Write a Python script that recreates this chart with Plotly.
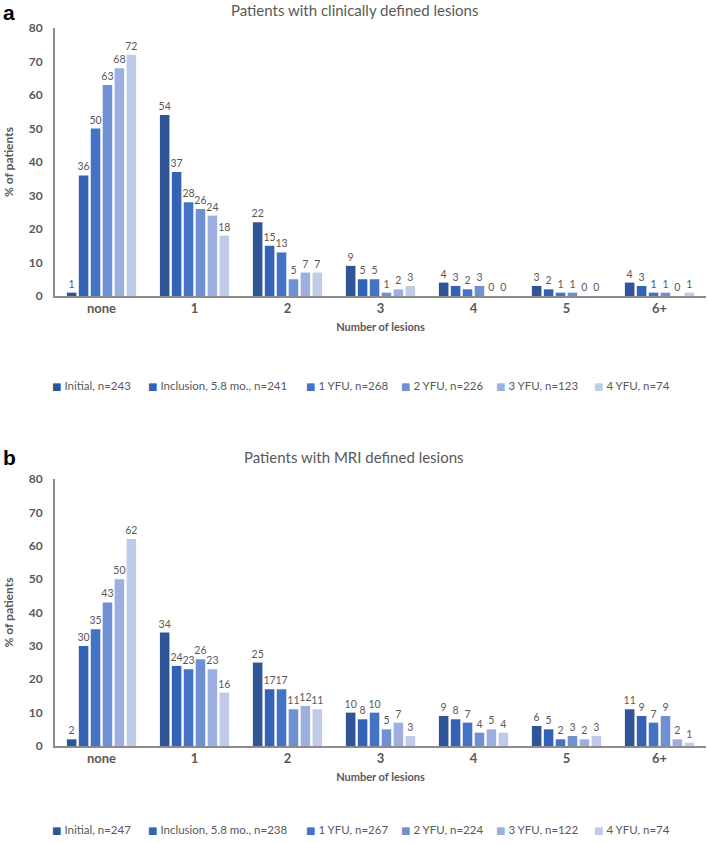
import plotly.graph_objects as go

categories = ["none", "1", "2", "3", "4", "5", "6+"]

series_names_a = ["Initial, n=243", "Inclusion, 5.8 mo., n=241", "1 YFU, n=268",
                  "2 YFU, n=226", "3 YFU, n=123", "4 YFU, n=74"]
series_names_b = ["Initial, n=247", "Inclusion, 5.8 mo., n=238", "1 YFU, n=267",
                  "2 YFU, n=224", "3 YFU, n=122", "4 YFU, n=74"]

values_a = [
    [1, 54, 22, 9, 4, 3, 4],
    [36, 37, 15, 5, 3, 2, 3],
    [50, 28, 13, 5, 2, 1, 1],
    [63, 26, 5, 1, 3, 1, 1],
    [68, 24, 7, 2, 0, 0, 0],
    [72, 18, 7, 3, 0, 0, 1],
]
values_b = [
    [2, 34, 25, 10, 9, 6, 11],
    [30, 24, 17, 8, 8, 5, 9],
    [35, 23, 17, 10, 7, 2, 7],
    [43, 26, 11, 5, 4, 3, 9],
    [50, 23, 12, 7, 5, 2, 2],
    [62, 16, 11, 3, 4, 3, 1],
]

colors = ["#2F5597", "#3462B4", "#4472C4", "#7090D4", "#9DAFDE", "#BFCBE8"]

W, H = 708, 843
FONT = "Lato"
GREY = "#595959"

def py(px):
    return 1 - px / H

def pxx(px):
    return px / W

fig = go.Figure()

for i in range(6):
    fig.add_trace(go.Bar(
        x=categories, y=values_a[i], name=series_names_a[i],
        marker=dict(color=colors[i], line=dict(width=0)),
        text=[str(v) for v in values_a[i]], textposition="outside", constraintext="none",
        textfont=dict(size=10.5, color=GREY, family=FONT),
        cliponaxis=False, xaxis="x", yaxis="y", showlegend=False, hoverinfo="skip",
    ))
for i in range(6):
    fig.add_trace(go.Bar(
        x=categories, y=values_b[i], name=series_names_b[i],
        marker=dict(color=colors[i], line=dict(width=0)),
        text=[str(v) for v in values_b[i]], textposition="outside", constraintext="none",
        textfont=dict(size=10.5, color=GREY, family=FONT),
        cliponaxis=False, xaxis="x2", yaxis="y2", showlegend=False, hoverinfo="skip",
    ))

xdom = [pxx(55), pxx(706)]
ya = [py(296), py(28)]
yb = [py(746), py(479)]

xcommon = dict(domain=xdom, showline=True, linecolor="#8c8c8c", linewidth=1.5,
               ticks="", showgrid=False, automargin=False,
               tickfont=dict(family=FONT, size=13, color=GREY, weight="bold"),
               title=dict(text="Number of lesions", font=dict(family=FONT, size=11, color=GREY, weight="bold"),
                          standoff=8))
ycommon = dict(range=[0, 80], dtick=10, showline=True, linecolor="#8c8c8c", linewidth=2,
               ticks="outside", ticklen=8, tickcolor="rgba(0,0,0,0)", showgrid=False,
               automargin=False, zeroline=False,
               tickfont=dict(family=FONT, size=12, color=GREY, weight="bold"),
               title=dict(text="% of patients", font=dict(family=FONT, size=12, color=GREY, weight="bold"),
                          standoff=12))

annotations = [
    dict(text="Patients with clinically defined lesions", x=0.5, y=py(10), xref="paper", yref="paper",
         showarrow=False, font=dict(family=FONT, size=15, color=GREY), xanchor="center", yanchor="middle"),
    dict(text="Patients with MRI defined lesions", x=0.5, y=py(457), xref="paper", yref="paper",
         showarrow=False, font=dict(family=FONT, size=15, color=GREY), xanchor="center", yanchor="middle"),
    dict(text="<b>a</b>", x=pxx(1), y=py(13), xref="paper", yref="paper", showarrow=False,
         font=dict(family="Liberation Sans", size=21, color="black"), xanchor="left", yanchor="middle"),
    dict(text="<b>b</b>", x=pxx(1), y=py(457), xref="paper", yref="paper", showarrow=False,
         font=dict(family="Liberation Sans", size=21, color="black"), xanchor="left", yanchor="middle"),
]

# legends drawn as text rows (one entry per series)
legend_x = [50, 146, 304, 399, 494, 592]
for names, ly in ((series_names_a, 385), (series_names_b, 829)):
    for i, nm in enumerate(names):
        annotations.append(dict(
            text=f'<span style="color:{colors[i]};font-family:DejaVu Sans;font-size:10px">■</span> {nm}',
            x=pxx(legend_x[i]), y=py(ly), xref="paper", yref="paper", showarrow=False,
            xanchor="left", yanchor="middle", font=dict(family=FONT, size=11.5, color=GREY)))

fig.update_layout(
    width=W, height=H,
    margin=dict(l=0, r=0, t=0, b=0),
    paper_bgcolor="white", plot_bgcolor="white",
    barmode="group", bargap=0.23, bargroupgap=0.2,
    uniformtext=dict(mode=False),
    xaxis=dict(**xcommon, anchor="y"),
    yaxis=dict(**ycommon, domain=ya, anchor="x"),
    xaxis2=dict(**xcommon, anchor="y2"),
    yaxis2=dict(**ycommon, domain=yb, anchor="x2"),
    annotations=annotations,
)

fig.write_html("out.html", config={"displayModeBar": False},
               post_script="document.body.style.margin='0';document.body.style.overflow='hidden';")
